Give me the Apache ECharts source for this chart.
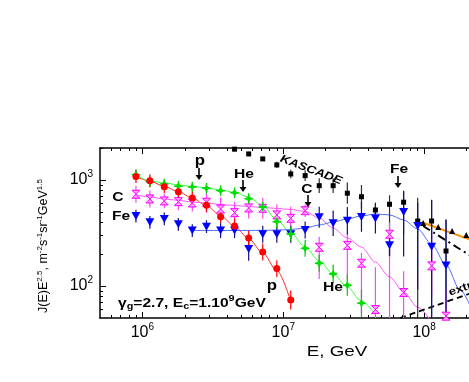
<!DOCTYPE html>
<html>
<head>
<meta charset="utf-8">
<script src="https://cdn.jsdelivr.net/npm/echarts@6/dist/echarts.min.js"></script>
<style>
  html, body { margin: 0; padding: 0; background: #fff; }
  #chart { width: 469px; height: 382px; }
</style>
</head>
<body>
<div id="chart"></div>
<script>
// energy grid, GeV (points sit ~0.1 decade apart)
var energies = [9.0e5, 1.13e6, 1.43e6, 1.80e6, 2.26e6, 2.85e6, 3.59e6, 4.51e6, 5.68e6, 7.15e6,
  9.0e6, 1.13e7, 1.43e7, 1.80e7, 2.26e7, 2.85e7, 3.59e7, 4.51e7, 5.68e7, 7.15e7,
  9.0e7, 1.13e8, 1.43e8, 1.80e8, 2.26e8]

// measured J(E)E^2.5 (null = no point)
var protons = [1075, 985, 865, 776, 677, 577, 451, 368, 284, 209, 146, 74]
var helium = [1122, 960, 917, 873, 859, 835, 793, 759, 666, 556, 404, 310, 227, 164, 130, 102, 69]
var carbon = [733, 662, 634, 624, 607, 616, 532, 492, 545, 541, 468, 435, 513, 232, null, 242, 164, 60, 308, 87, null, 155, 52]
var iron = [457, 399, 429, 382, 333, 363, 333, 333, 223, 308, 308, 308, 337, 445, 391, 413, 448, 432, 242, 499, 368, 235, 156]
var kascade = [null, null, null, null, null, null, null, 1950, 1758, 1578, 1386, 1139, 1098, 883, 883, 750, 695, 521, 590, 617, 410, 410, 214]

// error bars in decades: one number = symmetric, [down, up] otherwise
var protonsErr = [0.06, 0.06, 0.06, 0.06, 0.06, 0.06, 0.06, 0.07, 0.07, 0.08, 0.08, 0.09]
var heliumErr = [0.05, 0.05, 0.05, 0.05, 0.05, 0.05, 0.05, 0.05, 0.05, 0.05, 0.06, 0.07, 0.08, 0.08, 0.09, 0.1, 0.13]
var carbonErr = [0.08, 0.08, 0.07, 0.08, 0.08, 0.1, 0.11, 0.1, 0.1, 0.1, 0.1, 0.11, 0.06, [0.3, 0.1], null,
  [0.33, 0.11], [0.47, 0.1], [0.2, 0.4], [0.8, 0.11], [0.25, 0.2], null, [0.3, 0.3], [0.1, 0.25]]
var ironErr = [0.06, 0.06, 0.06, 0.06, 0.06, 0.06, 0.07, 0.07, 0.11, 0.08, 0.08, 0.08, 0.08, 0.1, 0.12, 0.13,
  0.14, 0.14, 0.1, [0.42, 0.2], [0.6, 0.22], [0.7, 0.44], [0.5, 0.43]]
var kascadeErr = [null, null, null, null, null, null, null, 0.02, 0.02, 0.02, 0.03, 0.04, 0.05, 0.07, 0.07,
  0.1, 0.11, 0.07, [0.5, 0.085], [0.3, 0.1], [0.9, 0.22], [0.9, 0.2], [0.9, 0.3]]

// model curves
var protonsFit = [1080, 975, 870, 775, 675, 570, 460, 365, 280, 205, 140, 72]
var heliumFit = [1115, 979, 937, 898, 869, 840, 805, 763, 691, 569, 420, 316, 233, 172, 130, 98, 72, 54]
var carbonFit = [722, 691, 662, 641, 620, 607, 587, 575, 562, 550, 539, 527, 505, 438, 352, 284, 233, 168, 122, 88, 63, 46]
var ironFit = [null, null, null, null, 334, 334, 334, 334, 334, 335, 337, 341, 352, 376, 401, 429, 458, 478, 468, 420, 345, 249, 158, 92, 53]

// high energy part on the right
var triE = [9.84e7, 1.26e8, 1.58e8, 1.99e8]
var triJ = [393, 360, 331, 303]
var orangeE = [9.84e7, 3.5e8]
var orangeJ = [395, 215]
var dashDotE = [9.84e7, 3.0e8]
var dashDotJ = [368, 145]
var extraE = [6.76e7, 3.46e8]
var extraJ = [50, 107]

// axes
var xMin = 5e5, xMax = 1e9, yMin = 50, yMax = 2000
var xMajor = [1e6, 1e7, 1e8]
var xMinor = [6e5, 7e5, 8e5, 9e5, 2e6, 3e6, 4e6, 5e6, 6e6, 7e6, 8e6, 9e6,
  2e7, 3e7, 4e7, 5e7, 6e7, 7e7, 8e7, 9e7, 2e8, 3e8, 4e8, 5e8, 6e8, 7e8, 8e8, 9e8]
var yMajor = [100, 1000]
var yMinor = [60, 70, 80, 90, 200, 300, 400, 500, 600, 700, 800, 900, 2000]

var font = '"Liberation Sans", Arial, sans-serif'

function pairs (xs, ys) {
  var out = []
  for (var i = 0; i < ys.length; i++) {
    if (ys[i] != null) out.push([xs[i], ys[i]])
  }
  return out
}

function powLabel (v) {
  return '{b|10}{s|' + Math.round(Math.log10(v)) + '}'
}

var labelRich = {
  b: { fontSize: 16, fontFamily: font, color: '#000' },
  s: { fontSize: 10, fontFamily: font, color: '#000', padding: [0, 0, 11, 0] }
}

function xAxisDef (pos, ticks, len, withLine, withLabels) {
  return {
    type: 'log', logBase: 10, min: xMin, max: xMax, position: pos,
    axisLine: { show: withLine, onZero: false, lineStyle: { color: '#000', width: 1.5 } },
    axisTick: { show: true, inside: true, length: len, customValues: ticks, lineStyle: { color: '#000', width: 1 } },
    axisLabel: withLabels
      ? { show: true, customValues: ticks, formatter: powLabel, rich: labelRich, margin: 4 }
      : { show: false },
    splitLine: { show: false }
  }
}

function yAxisDef (ticks, len, withLine, withLabels) {
  return {
    type: 'log', logBase: 10, min: yMin, max: yMax, position: 'left',
    axisLine: { show: withLine, onZero: false, lineStyle: { color: '#000', width: 1.5 } },
    axisTick: { show: true, inside: true, length: len, customValues: ticks, lineStyle: { color: '#000', width: 1 } },
    axisLabel: withLabels
      ? { show: true, customValues: ticks, formatter: powLabel, rich: labelRich, margin: 7 }
      : { show: false },
    splitLine: { show: false }
  }
}

function errorBars (xs, ys, errs, color, cap) {
  var data = []
  for (var i = 0; i < ys.length; i++) {
    if (ys[i] == null || errs[i] == null) continue
    var e = errs[i]
    var down = Array.isArray(e) ? e[0] : e
    var up = Array.isArray(e) ? e[1] : e
    data.push([xs[i], ys[i] / Math.pow(10, down), ys[i] * Math.pow(10, up), ys[i]])
  }
  return {
    type: 'custom',
    clip: true,
    silent: true,
    z: 2,
    encode: { x: 0, y: [1, 2] },
    renderItem: function (params, api) {
      var lo = api.coord([api.value(0), api.value(1)])
      var hi = api.coord([api.value(0), api.value(2)])
      var kids = [{
        type: 'line',
        shape: { x1: lo[0], y1: lo[1], x2: hi[0], y2: hi[1] },
        style: { stroke: color, lineWidth: 1.2 }
      }]
      if (cap) {
        var mid = api.coord([api.value(0), api.value(3)])
        kids.push({
          type: 'line',
          shape: { x1: mid[0] - cap, y1: mid[1], x2: mid[0] + cap, y2: mid[1] },
          style: { stroke: color, lineWidth: 1.2 }
        })
      }
      return { type: 'group', children: kids }
    },
    data: data
  }
}

function fitLine (xs, ys, color, width, dash) {
  return {
    type: 'line',
    data: pairs(xs, ys),
    showSymbol: false,
    smooth: 0.3,
    smoothMonotone: 'x',
    clip: true,
    silent: true,
    z: 1,
    lineStyle: { color: color, width: width || 1, type: dash || 'solid' }
  }
}

function points (xs, ys, symbol, size, fill, border) {
  return {
    type: 'scatter',
    data: pairs(xs, ys),
    symbol: symbol,
    symbolSize: size,
    clip: true,
    silent: true,
    z: 3,
    itemStyle: { color: fill, borderColor: border || fill, borderWidth: border ? 1 : 0, opacity: 1 }
  }
}

function label (text, x, y, size, extra) {
  var el = {
    type: 'text', x: x, y: y, z: 10,
    style: {
      text: text, fill: '#000', align: 'center', verticalAlign: 'middle',
      font: 'bold ' + size + 'px ' + font
    },
    scaleX: 1.2
  }
  if (extra) Object.assign(el, extra)
  return el
}

function arrow (x, y1, y2) {
  return [
    { type: 'line', z: 10, shape: { x1: x, y1: y1, x2: x, y2: y2 - 4 }, style: { stroke: '#000', lineWidth: 1.6 } },
    { type: 'polygon', z: 10, shape: { points: [[x - 3.5, y2 - 5], [x + 3.5, y2 - 5], [x, y2]] }, style: { fill: '#000' } }
  ]
}

var star = 'path://M5,0 L6.4,3.6 L10,5 L6.4,6.4 L5,10 L3.6,6.4 L0,5 L3.6,3.6 Z'
var hourglass = 'path://M0,0 L10,0 L5,5 L10,10 L0,10 L5,5 Z'
var downTri = 'path://M0,0 L10,0 L5,9 Z'

var graphics = []
  .concat([label('p', 200, 161, 14)], arrow(199, 168, 180))
  .concat([label('He', 244, 174, 13)], arrow(243, 180, 192))
  .concat([label('C', 307, 189, 13)], arrow(308, 195, 207))
  .concat([label('Fe', 399, 169, 13)], arrow(398, 176, 188))
  .concat([
    label('C', 118, 197, 13),
    label('Fe', 121, 216, 13),
    label('p', 272, 286, 14),
    label('He', 333, 287, 13),
    label('KASCADE', 311, 170, 11, {
      rotation: -0.36,
      style: { text: 'KASCADE', fill: '#000', align: 'center', verticalAlign: 'middle', font: 'italic bold 11px ' + font }
    }),
    label('extragalactic', 449, 293, 11, {
      rotation: 0.34,
      style: { text: 'extragalactic', fill: '#000', align: 'left', verticalAlign: 'middle', font: 'bold 11px ' + font }
    }),
    {
      type: 'text', x: 118, y: 303, z: 10, scaleX: 1.2,
      style: {
        text: '{t|γ}{sub|g}{t|=2.7, E}{sub|c}{t|=1.10}{sup|9}{t|GeV}',
        align: 'left', verticalAlign: 'middle',
        rich: {
          t: { font: 'bold 13px ' + font, fill: '#000' },
          sub: { font: 'bold 9px ' + font, fill: '#000', padding: [8, 0, 0, 0] },
          sup: { font: 'bold 9px ' + font, fill: '#000', padding: [0, 0, 9, 0] }
        }
      }
    },
    {
      type: 'text', x: 337, y: 352, z: 10, scaleX: 1.25,
      style: { text: 'E, GeV', fill: '#000', align: 'center', verticalAlign: 'middle', font: '15px ' + font }
    },
    {
      type: 'text', x: 44, y: 246, z: 10, rotation: Math.PI / 2,
      style: {
        text: '{t|J(E)E}{s|2.5}{t|, m}{s|-2}{t|s}{s|-1}{t|sr}{s|-1}{t|GeV}{s|1.5}',
        align: 'center', verticalAlign: 'middle',
        rich: {
          t: { font: '12.5px ' + font, fill: '#000' },
          s: { font: '8px ' + font, fill: '#000', padding: [0, 0, 9, 0] }
        }
      }
    }
  ])

var option = {
  backgroundColor: '#fff',
  animation: false,
  grid: { left: 100, top: 148, width: 465, height: 170, containLabel: false, outerBoundsMode: 'none' },
  xAxis: [
    xAxisDef('bottom', xMajor, 6, true, true),
    xAxisDef('bottom', xMinor, 3, false, false),
    xAxisDef('top', xMajor, 6, true, false),
    xAxisDef('top', xMinor, 3, false, false)
  ],
  yAxis: [
    yAxisDef(yMajor, 6, true, true),
    yAxisDef(yMinor, 3, false, false)
  ],
  series: [
    fitLine(energies, protonsFit, '#ff2a2a', 1),
    fitLine(energies, heliumFit, '#3cff3c', 1),
    fitLine(energies, carbonFit, '#ff55ff', 1),
    fitLine(energies, ironFit, '#4d6dff', 1),
    fitLine(orangeE, orangeJ, '#ff8c00', 2),
    fitLine(dashDotE, dashDotJ, '#000', 2, [8, 4, 2, 4]),
    fitLine(extraE, extraJ, '#000', 1.8, [6, 4]),
    errorBars(energies, kascade, kascadeErr, '#303030', 0),
    errorBars(energies, carbon, carbonErr, '#ff44ff', 0),
    errorBars(energies, iron, ironErr, '#10108a', 0),
    errorBars(energies, helium, heliumErr, '#00c800', 4),
    errorBars(energies, protons, protonsErr, '#ff0000', 0),
    points(energies, kascade, 'rect', 5, '#000'),
    points(energies, carbon, hourglass, 8, '#ffa0ff', '#ff00ff'),
    points(energies, iron, downTri, [9, 8], '#0000ff'),
    points(energies, helium, star, 10, '#00dd00'),
    points(energies, protons, 'circle', 7, '#ff0000'),
    points(triE, triJ, 'triangle', 6, '#000')
  ],
  graphic: graphics
}

var chart = echarts.init(document.getElementById('chart'))
chart.setOption(option)
</script>
</body>
</html>
